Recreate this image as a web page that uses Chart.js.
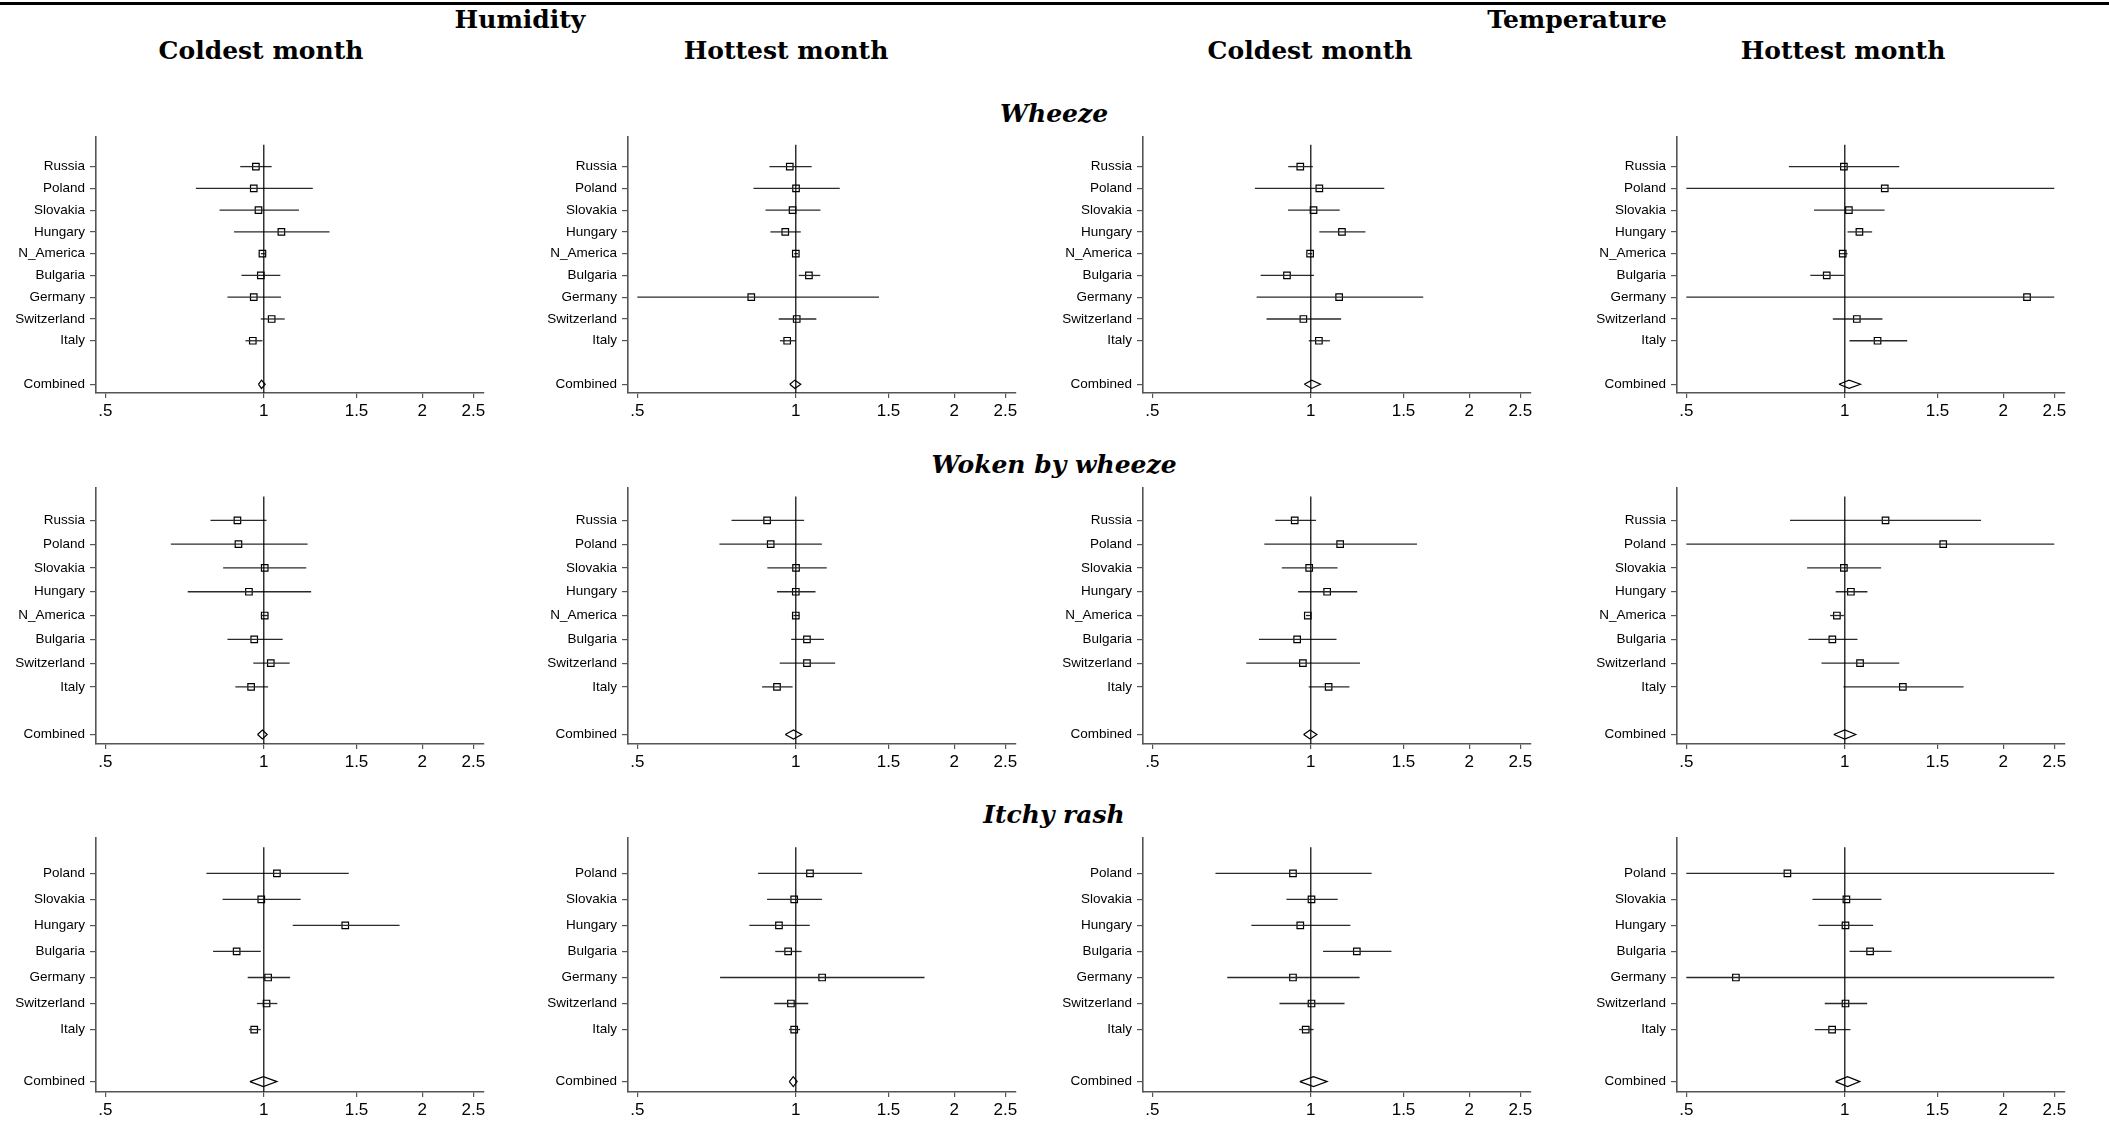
<!DOCTYPE html>
<html><head><meta charset="utf-8">
<script src="https://cdn.jsdelivr.net/npm/chart.js@4.4.0/dist/chart.umd.min.js"></script>
<style>
html,body{margin:0;padding:0;background:#fff;}
body{width:2109px;height:1144px;position:relative;overflow:hidden;}
.t{position:absolute;transform:translateX(-50%);white-space:nowrap;color:#000;line-height:1;}
.hdr{font-family:'DejaVu Serif',serif;font-weight:bold;font-size:25px;}
.sec{font-family:'DejaVu Serif',serif;font-weight:bold;font-style:italic;font-size:25px;}
.panel{position:absolute;}
#topline{position:absolute;left:0;top:2px;width:2109px;height:3px;background:#000;}
</style></head><body>
<div id="topline"></div>
<script>
// ---------- DATA ----------
const exposureTitles = ['Humidity', 'Temperature'];
const monthTitles = ['Coldest month', 'Hottest month', 'Coldest month', 'Hottest month'];
const outcomeTitles = ['Wheeze', 'Woken by wheeze', 'Itchy rash'];
const combinedLabel = 'Combined';
const xTickValues = [0.5, 1, 1.5, 2, 2.5];
const xTickLabels = ['.5', '1', '1.5', '2', '2.5'];

const countriesWheeze = ['Russia','Poland','Slovakia','Hungary','N_America','Bulgaria','Germany','Switzerland','Italy'];
const countriesWoken  = ['Russia','Poland','Slovakia','Hungary','N_America','Bulgaria','Switzerland','Italy'];
const countriesRash   = ['Poland','Slovakia','Hungary','Bulgaria','Germany','Switzerland','Italy'];

// Wheeze
const wheezeHumCold_or = [0.966,0.957,0.977,1.080,0.994,0.987,0.957,1.035,0.953];
const wheezeHumCold_lo = [0.902,0.743,0.824,0.878,0.987,0.907,0.853,0.987,0.923];
const wheezeHumCold_hi = [1.035,1.239,1.166,1.333,1.006,1.075,1.078,1.096,0.994];
const wheezeHumCold_comb = [0.990,0.977,1.006];

const wheezeHumHot_or = [0.974,1.001,0.986,0.955,1.000,1.059,0.823,1.004,0.963];
const wheezeHumHot_lo = [0.891,0.831,0.876,0.895,0.993,1.013,0.500,0.928,0.933];
const wheezeHumHot_hi = [1.072,1.212,1.114,1.022,1.010,1.113,1.439,1.094,1.000];
const wheezeHumHot_comb = [0.996,0.974,1.022];

const wheezeTempCold_or = [0.955,1.038,1.012,1.146,0.997,0.901,1.132,0.968,1.036];
const wheezeTempCold_lo = [0.906,0.783,0.905,1.038,0.988,0.803,0.789,0.824,0.991];
const wheezeTempCold_hi = [1.009,1.379,1.135,1.270,1.006,1.014,1.635,1.142,1.087];
const wheezeTempCold_comb = [1.004,0.972,1.043];

const wheezeTempHot_or = [0.996,1.191,1.018,1.066,0.991,0.924,2.219,1.054,1.154];
const wheezeTempHot_lo = [0.783,0.500,0.874,1.012,0.978,0.860,0.500,0.949,1.021];
const wheezeTempHot_hi = [1.269,2.500,1.190,1.127,1.012,0.996,2.500,1.179,1.314];
const wheezeTempHot_comb = [1.019,0.975,1.071];

// Woken by wheeze
const wokenHumCold_or = [0.891,0.895,1.004,0.937,1.004,0.959,1.031,0.946];
const wokenHumCold_lo = [0.792,0.666,0.837,0.717,0.987,0.853,0.955,0.883];
const wokenHumCold_hi = [1.012,1.211,1.204,1.230,1.021,1.086,1.120,1.019];
const wokenHumCold_comb = [0.994,0.973,1.015];

const wokenHumHot_or = [0.882,0.896,1.001,1.000,1.000,1.050,1.050,0.921];
const wokenHumHot_lo = [0.755,0.716,0.883,0.921,0.989,0.980,0.932,0.863];
const wokenHumHot_hi = [1.037,1.121,1.145,1.090,1.017,1.131,1.188,0.986];
const wokenHumHot_comb = [0.990,0.955,1.026];

const wokenTempCold_or = [0.932,1.137,0.993,1.074,0.987,0.942,0.966,1.081];
const wokenTempCold_lo = [0.856,0.816,0.881,0.946,0.979,0.797,0.754,0.991];
const wokenTempCold_hi = [1.023,1.591,1.124,1.225,1.000,1.119,1.240,1.184];
const wokenTempCold_comb = [0.997,0.969,1.027];

const wokenTempHot_or = [1.195,1.538,0.996,1.027,0.966,0.947,1.069,1.289];
const wokenTempHot_lo = [0.787,0.500,0.848,0.961,0.938,0.853,0.903,0.994];
const wokenTempHot_hi = [1.815,2.500,1.172,1.104,0.996,1.057,1.269,1.681];
const wokenTempHot_comb = [1.000,0.953,1.049];

// Itchy rash
const rashHumCold_or = [1.059,0.989,1.428,0.888,1.019,1.012,0.959];
const rashHumCold_lo = [0.778,0.835,1.135,0.801,0.932,0.970,0.937];
const rashHumCold_hi = [1.450,1.175,1.811,0.987,1.122,1.061,0.987];
const rashHumCold_comb = [0.998,0.941,1.059];

const rashHumHot_or = [1.064,0.993,0.929,0.967,1.122,0.979,0.993];
const rashHumHot_lo = [0.848,0.882,0.816,0.914,0.718,0.910,0.970];
const rashHumHot_hi = [1.337,1.121,1.063,1.026,1.756,1.056,1.019];
const rashHumHot_comb = [0.989,0.972,1.006];

const rashTempCold_or = [0.925,1.003,0.955,1.223,0.925,1.003,0.978];
const rashTempCold_lo = [0.659,0.899,0.771,1.055,0.694,0.872,0.950];
const rashTempCold_hi = [1.305,1.125,1.189,1.423,1.238,1.159,1.012];
const rashTempCold_comb = [1.012,0.953,1.074];

const rashTempHot_or = [0.778,1.007,1.003,1.117,0.621,1.003,0.946];
const rashTempHot_lo = [0.500,0.868,0.891,1.021,0.500,0.916,0.877];
const rashTempHot_hi = [2.500,1.174,1.132,1.227,2.500,1.103,1.025];
const rashTempHot_comb = [1.012,0.960,1.068];

// ---------- LAYOUT ----------
const panels = [
  [countriesWheeze, [wheezeHumCold_or, wheezeHumCold_lo, wheezeHumCold_hi, wheezeHumCold_comb],
                    [wheezeHumHot_or, wheezeHumHot_lo, wheezeHumHot_hi, wheezeHumHot_comb],
                    [wheezeTempCold_or, wheezeTempCold_lo, wheezeTempCold_hi, wheezeTempCold_comb],
                    [wheezeTempHot_or, wheezeTempHot_lo, wheezeTempHot_hi, wheezeTempHot_comb]],
  [countriesWoken,  [wokenHumCold_or, wokenHumCold_lo, wokenHumCold_hi, wokenHumCold_comb],
                    [wokenHumHot_or, wokenHumHot_lo, wokenHumHot_hi, wokenHumHot_comb],
                    [wokenTempCold_or, wokenTempCold_lo, wokenTempCold_hi, wokenTempCold_comb],
                    [wokenTempHot_or, wokenTempHot_lo, wokenTempHot_hi, wokenTempHot_comb]],
  [countriesRash,   [rashHumCold_or, rashHumCold_lo, rashHumCold_hi, rashHumCold_comb],
                    [rashHumHot_or, rashHumHot_lo, rashHumHot_hi, rashHumHot_comb],
                    [rashTempCold_or, rashTempCold_lo, rashTempCold_hi, rashTempCold_comb],
                    [rashTempHot_or, rashTempHot_lo, rashTempHot_hi, rashTempHot_comb]]
];

const colLeft = [95.5, 628, 1143, 1677];
const rowTop = [137, 488, 838];
const rowBottom = [393, 744, 1092];
const AW = 388, YW = 100, XH = 40, PT = 20, PR = 20;

function addText(txt, cls, cx, cy) {
  const d = document.createElement('div');
  d.className = 't ' + cls;
  d.textContent = txt;
  d.style.left = cx + 'px';
  d.style.top = (cy - 13) + 'px';
  document.body.appendChild(d);
}
addText(exposureTitles[0], 'hdr', 520, 20);
addText(exposureTitles[1], 'hdr', 1577, 20);
[261, 786, 1310, 1843].forEach((x, i) => addText(monthTitles[i], 'hdr', x, 51));
[114, 465, 815].forEach((y, i) => addText(outcomeTitles[i], 'sec', 1054, y));

Chart.defaults.font.family = "'Liberation Sans', Arial, sans-serif";
Chart.defaults.color = '#000';

function makePanel(r, c) {
  const cats = panels[r][0];
  const [or, lo, hi, comb] = panels[r][c + 1];
  const N = cats.length;
  const combY = N + 2;
  const yMin = -0.36, yMax = N + 2.4;
  const yPos = cats.map((_, i) => i + 1).concat([combY]);
  const yLabels = cats.concat([combinedLabel]);
  const AH = rowBottom[r] - rowTop[r];

  const wrap = document.createElement('div');
  wrap.className = 'panel';
  const W = YW + AW + PR, H = PT + AH + XH;
  wrap.style.left = (colLeft[c] - YW) + 'px';
  wrap.style.top = (rowTop[r] - PT) + 'px';
  wrap.style.width = W + 'px';
  wrap.style.height = H + 'px';
  const cv = document.createElement('canvas');
  cv.width = W; cv.height = H;
  cv.style.width = W + 'px'; cv.style.height = H + 'px';
  wrap.appendChild(cv);
  document.body.appendChild(wrap);

  const datasets = [];
  datasets.push({type: 'line', data: [{x: 1, y: 0}, {x: 1, y: yMax}], borderColor: '#000', borderWidth: 1.2, pointRadius: 0, fill: false});
  for (let i = 0; i < N; i++) {
    datasets.push({type: 'line', data: [{x: lo[i], y: i + 1}, {x: hi[i], y: i + 1}], borderColor: '#2a2a2a', borderWidth: 1.3, pointRadius: 0, fill: false});
  }
  datasets.push({type: 'scatter', data: or.map((v, i) => ({x: v, y: i + 1})), pointStyle: 'rect', pointRadius: 4.6,
    pointBorderColor: '#000', pointBackgroundColor: 'rgba(0,0,0,0)', pointBorderWidth: 1.2, showLine: false});
  const h = 0.19;
  datasets.push({type: 'line', data: [{x: comb[1], y: combY}, {x: comb[0], y: combY - h}, {x: comb[2], y: combY},
    {x: comb[0], y: combY + h}, {x: comb[1], y: combY}], borderColor: '#000', borderWidth: 1.2, pointRadius: 0, tension: 0, fill: false});

  new Chart(cv, {
    type: 'scatter',
    data: {datasets},
    options: {
      responsive: false, animation: false, devicePixelRatio: 1, events: [],
      layout: {padding: {top: PT, right: PR, left: 0, bottom: 0}},
      plugins: {legend: {display: false}, tooltip: {enabled: false}},
      scales: {
        x: {
          type: 'logarithmic', min: 0.48, max: 2.62,
          afterBuildTicks: s => { s.ticks = xTickValues.map(v => ({value: v})); },
          afterFit: s => { s.height = XH; },
          ticks: {callback: (v, i) => xTickLabels[i], font: {size: 17}, color: '#000', maxRotation: 0, autoSkip: false, padding: 3},
          grid: {drawOnChartArea: false, drawTicks: true, tickLength: 5, color: '#555', lineWidth: 1.2},
          border: {display: true, color: '#555', width: 1.6}
        },
        y: {
          type: 'linear', reverse: true, min: yMin, max: yMax,
          afterBuildTicks: s => { s.ticks = yPos.map(v => ({value: v})); },
          afterFit: s => { s.width = YW; },
          ticks: {callback: (v, i) => yLabels[i], font: {size: 13.5}, color: '#000', autoSkip: false, padding: 5},
          grid: {drawOnChartArea: false, drawTicks: true, tickLength: 6, color: '#555', lineWidth: 1.2},
          border: {display: true, color: '#555', width: 1.6}
        }
      }
    }
  });
}
for (let r = 0; r < 3; r++) for (let c = 0; c < 4; c++) makePanel(r, c);
</script>
</body></html>
